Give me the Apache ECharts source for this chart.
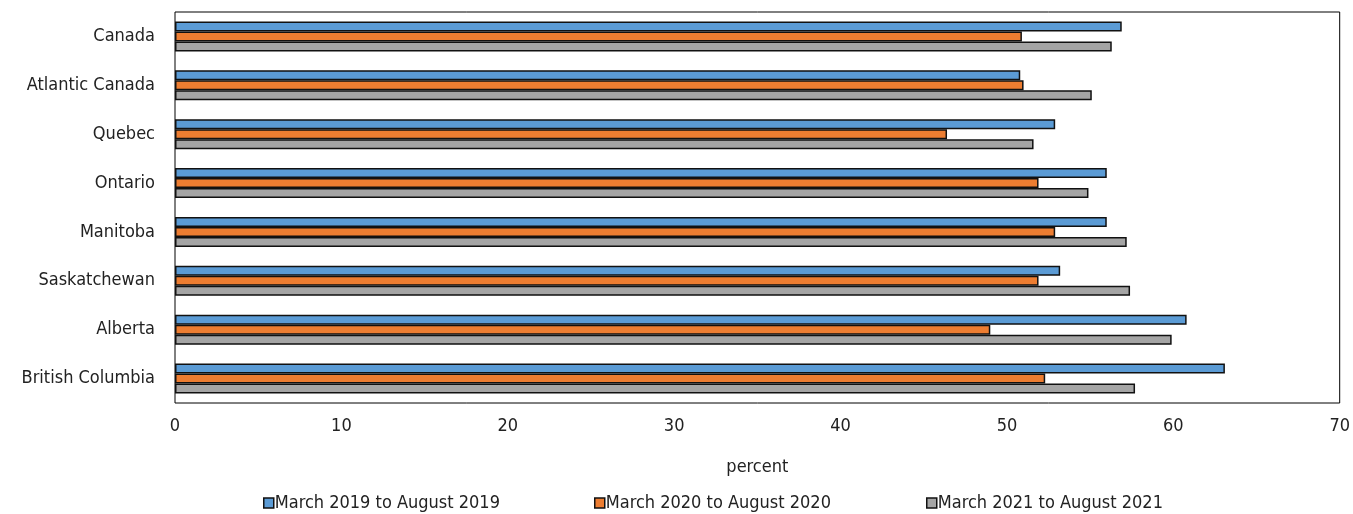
<!DOCTYPE html>
<html><head><meta charset="utf-8">
<script src="https://cdn.jsdelivr.net/npm/echarts@6/dist/echarts.min.js"></script>
<style>html,body{margin:0;padding:0;background:#fff}#c{width:1353px;height:514px}</style>
</head><body><div id="c"></div>
<script>
const categories = ["Canada","Atlantic Canada","Quebec","Ontario","Manitoba","Saskatchewan","Alberta","British Columbia"];
const seriesNames = ["March 2019 to August 2019","March 2020 to August 2020","March 2021 to August 2021"];
const values2019 = [56.9,50.8,52.9,56.0,56.0,53.2,60.8,63.1];
const values2020 = [50.9,51.0,46.4,51.9,52.9,51.9,49.0,52.3];
const values2021 = [56.3,55.1,51.6,54.9,57.2,57.4,59.9,57.7];
const xTicks = [0,10,20,30,40,50,60,70];

const FONT = '"Liberation Sans Narrow","DejaVu Sans Condensed","Roboto Condensed",Roboto,sans-serif';
const colors = ['#5B9BD5','#ED7D31','#A5A5A5'];
const chart = echarts.init(document.getElementById('c'));
const mk = (name,data,i)=>({name,type:'bar',data,barWidth:10,barGap:'0%',
  itemStyle:{color:colors[i],borderColor:'#111',borderWidth:1.5}});
const legendLefts = [258,589,921];
chart.setOption({
  animation:false,
  textStyle:{fontFamily:FONT},
  grid:{left:175,right:12,top:12,bottom:111,show:true,borderColor:'#000',borderWidth:1,backgroundColor:'transparent'},
  legend: seriesNames.map((n,i)=>({data:[{name:n,icon:'rect'}],left:legendLefts[i],top:489,itemWidth:10,itemHeight:10,itemGap:4,
    itemStyle:{borderColor:'#111',borderWidth:1.5},
    textStyle:{fontFamily:FONT,fontSize:18,color:'#222',padding:[0,0,0,-4]},selectedMode:false})),
  xAxis:{type:'value',min:0,max:70,interval:10,
    axisLabel:{fontFamily:FONT,fontSize:18,color:'#222',margin:14,
      formatter:v=>xTicks.includes(v)?String(v):''},
    axisLine:{show:false},axisTick:{show:false},splitLine:{show:false},
    name:'percent',nameLocation:'middle',nameGap:55,nameTextStyle:{fontFamily:FONT,fontSize:18,color:'#222'}},
  yAxis:{type:'category',data:categories,inverse:true,
    axisLabel:{fontFamily:FONT,fontSize:18,color:'#222',margin:20,verticalAlign:'middle'},
    axisLine:{show:false},axisTick:{show:false}},
  series:[mk(seriesNames[0],values2019,0),mk(seriesNames[1],values2020,1),mk(seriesNames[2],values2021,2)]
});
</script></body></html>
